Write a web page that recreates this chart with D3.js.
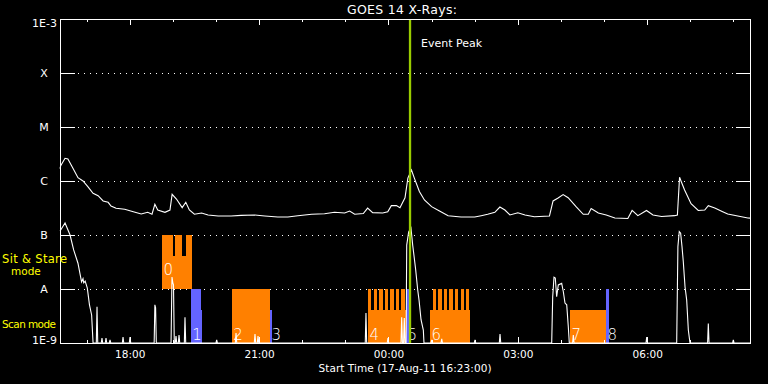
<!DOCTYPE html>
<html lang="en">
<head>
<meta charset="utf-8">
<title>GOES 14 X-Rays</title>
<script src="https://cdn.jsdelivr.net/npm/d3@7"></script>
<style>
  html, body { margin: 0; padding: 0; background: #000; }
  svg { display: block; }
  text { font-family: "DejaVu Sans", sans-serif; fill: #fff; }
</style>
</head>
<body>
<script>
// times are minutes after the start time (17-Aug-11 16:23:00 UT)
var startTime = Date.UTC(2011, 7, 17, 16, 23, 0),
    spanMinutes = 16 * 60,
    eventPeak = 487;

// flux levels (W/m^2) and their labels
var levels = [1e-9, 1e-8, 1e-7, 1e-6, 1e-5, 1e-4, 1e-3],
    levelLabels = ["1E-9", "A", "B", "C", "M", "X", "1E-3"];

// GOES 1-8 A channel
var longChannel = [
  [0, 1.7e-6], [1, 1.92e-6], [7, 2.63e-6], [11, 2.56e-6], [18, 1.72e-6], [25, 1.15e-6], [32, 1.0e-6],
  [39, 7.8e-7], [46, 5.9e-7], [53, 5.35e-7], [60, 4.27e-7], [67, 4.03e-7], [71, 3.44e-7], [78, 3.12e-7],
  [90, 2.99e-7], [102, 2.7e-7], [113, 2.45e-7], [122, 2.63e-7], [128, 2.42e-7], [132, 3.7e-7], [136, 2.9e-7],
  [146, 2.63e-7], [153, 2.9e-7], [156, 5.67e-7], [162, 4.64e-7], [170, 3.21e-7], [175, 4.03e-7], [180, 2.9e-7],
  [187, 2.42e-7], [197, 2.55e-7], [206, 2.35e-7], [220, 2.25e-7], [238, 2.25e-7], [252, 2.31e-7], [271, 2.35e-7],
  [285, 2.25e-7], [303, 2.15e-7], [317, 2.15e-7], [331, 2.28e-7], [350, 2.42e-7], [368, 2.47e-7], [382, 2.63e-7],
  [396, 2.55e-7], [403, 2.78e-7], [410, 2.42e-7], [422, 2.5e-7], [428, 3.15e-7], [435, 2.6e-7], [449, 2.55e-7],
  [456, 2.7e-7], [461, 3.5e-7], [468, 3.5e-7], [473, 3.2e-7], [480, 4.9e-7], [484, 1.13e-6], [489, 1.6e-6],
  [493, 1.13e-6], [500, 6.4e-7], [507, 4.45e-7], [517, 3.35e-7], [528, 2.78e-7], [540, 2.28e-7], [558, 2.15e-7],
  [577, 2.15e-7], [586, 2.28e-7], [595, 2.42e-7], [605, 2.63e-7], [612, 3.3e-7], [619, 2.9e-7], [626, 2.35e-7],
  [637, 2.58e-7], [647, 2.35e-7], [660, 2.18e-7], [681, 2.25e-7], [686, 4.27e-7], [693, 4.84e-7], [700, 5.6e-7],
  [707, 4.9e-7], [718, 3.35e-7], [728, 2.42e-7], [735, 2.42e-7], [739, 3.1e-7], [749, 2.55e-7], [760, 2.35e-7],
  [772, 2.07e-7], [790, 2.02e-7], [796, 2.85e-7], [804, 2.28e-7], [816, 2.85e-7], [825, 2.35e-7], [837, 2.2e-7],
  [855, 2.28e-7], [859, 2.35e-7], [862, 1.17e-6], [864, 1.0e-6], [869, 6.8e-7], [878, 3.8e-7], [888, 2.85e-7],
  [897, 2.9e-7], [902, 3.5e-7], [911, 3.15e-7], [922, 2.7e-7], [929, 2.45e-7], [943, 2.25e-7], [957, 2.07e-7],
  [960, 2.05e-7]
];

// GOES 0.5-4 A channel (values under 1E-9 sit on the axis)
var shortChannel = [
  [0, 1.2e-7], [1, 1.24e-7], [7, 1.67e-7], [14, 1.0e-7], [19, 5.3e-8], [25, 3.0e-8], [30, 1.35e-8],
  [32, 1.55e-8], [33, 1.3e-8], [35, 1.4e-8], [38, 1.04e-8], [41, 5.1e-9], [44, 3.3e-9], [46, 5e-10],
  [50.5, 5e-10], [51.5, 4.7e-9], [52.5, 5e-10],
  [57.4, 5e-10], [58.4, 1.24e-9], [59.4, 5e-10],
  [63, 5e-10], [64, 1.24e-9], [65, 5e-10],
  [68.6, 5e-10], [69.6, 1.14e-9], [70.6, 5e-10],
  [86.7, 5e-10], [87.7, 1.29e-9], [88.7, 5e-10],
  [96.4, 5e-10], [97.4, 1.29e-9], [98.4, 5e-10],
  [131, 5e-10], [132, 5.1e-9], [133, 4.5e-9], [134, 5e-10],
  [154.5, 5e-10], [155.8, 1.67e-8], [157, 1.3e-8], [157.9, 1.19e-8], [159, 5e-10],
  [160.4, 5e-10], [161.4, 1.35e-9], [162.4, 5e-10],
  [164.6, 5e-10], [165.6, 1.41e-9], [166.6, 5e-10],
  [173, 5e-10], [173.9, 3.0e-9], [174.9, 5e-10],
  [217, 5e-10], [218, 1.14e-9], [219, 5e-10],
  [244, 5e-10], [244.9, 1.53e-9], [245.9, 5e-10],
  [270.3, 5e-10], [271.3, 1.47e-9], [272.3, 5e-10],
  [274.5, 5e-10], [275.5, 1.35e-9], [276.5, 5e-10],
  [424.7, 5e-10], [425.7, 3.6e-9], [426.7, 5e-10],
  [455.3, 5e-10], [456.3, 1.24e-9], [457.3, 5e-10],
  [474.4, 5e-10], [475.4, 3.0e-9], [476.4, 5e-10],
  [478, 5e-10], [479, 2.9e-9], [480, 5e-10],
  [481.5, 5e-10], [482.4, 6.5e-8], [485.1, 1.14e-7], [488.3, 1.35e-7], [490.7, 6.5e-8], [492.9, 3.75e-8],
  [494.9, 2.25e-8], [497.7, 9.6e-9], [499.5, 6.3e-9], [502.3, 2.7e-9], [505.5, 1.74e-9], [506.4, 5e-10],
  [516.2, 5e-10], [517.2, 1.14e-9], [518.2, 5e-10],
  [530.1, 5e-10], [531.1, 1.19e-9], [532.1, 5e-10],
  [576.4, 5e-10], [577.4, 1.14e-9], [578.4, 5e-10],
  [611.2, 5e-10], [612.2, 1.47e-9], [613.2, 5e-10],
  [684.1, 5e-10], [685.5, 7.2e-9], [687.3, 1.65e-8], [689.1, 1.6e-8], [691, 7.2e-9], [693.3, 1.19e-8],
  [698, 1.27e-8], [700.3, 8.9e-9], [702.6, 5.5e-9], [705, 5.1e-9], [707.2, 2.0e-9], [708.6, 5e-10],
  [713.2, 5e-10], [714.2, 1.41e-9], [715.2, 5e-10],
  [815.3, 5e-10], [816.3, 1.29e-9], [817.3, 5e-10],
  [858, 5e-10], [859.7, 6.1e-8], [861.6, 1.16e-7], [863.5, 1.08e-7], [865.4, 6.1e-8], [867.2, 3.2e-8],
  [869.6, 1.1e-8], [871.9, 6.3e-9], [874.2, 1.74e-9], [876.5, 5e-10],
  [901, 5e-10], [902, 2.3e-9], [903, 5e-10],
  [935.8, 5e-10], [936.8, 1.14e-9], [937.8, 5e-10],
  [960, 5e-10]
];

// observing blocks: [start, end, top flux, bottom flux]
var rasterBlocks = [
  [142, 157, 1e-7, 1e-8], [157, 160, 4e-8, 1e-8], [160, 170, 1e-7, 1e-8], [170, 175, 4e-8, 1e-8], [175, 184, 1e-7, 1e-8],
  [239, 292, 1e-8, 1e-9],
  [428.5, 481.4, 4e-9, 1e-9],
  [428.5, 433.1, 1e-8, 1e-9], [437.4, 441.5, 1e-8, 1e-9], [444.5, 449.1, 1e-8, 1e-9], [452.2, 456.8, 1e-8, 1e-9],
  [459.8, 464.4, 1e-8, 1e-9], [467.5, 472.1, 1e-8, 1e-9], [475.1, 479.7, 1e-8, 1e-9],
  [514.8, 570.4, 4e-9, 1e-9],
  [518.5, 523.1, 1e-8, 1e-9], [526.3, 531, 1e-8, 1e-9], [534.3, 538.9, 1e-8, 1e-9], [541.6, 546.4, 1e-8, 1e-9],
  [549.6, 554.2, 1e-8, 1e-9], [557.5, 562.1, 1e-8, 1e-9], [564.9, 569.5, 1e-8, 1e-9],
  [709.6, 759.7, 4e-9, 1e-9]
];
var otherBlocks = [
  [182, 196.2, 1e-8, 1e-9], [196.2, 197.6, 4e-9, 1e-9],
  [292.2, 295, 4e-9, 1e-9],
  [481.4, 485.6, 1e-8, 1e-9],
  [759.7, 763.8, 1e-8, 1e-9]
];

// block numbers, where each starts, and the flux it sits on
var blockNames = ["0", "1", "2", "3", "4", "5", "6", "7", "8"],
    blockStarts = [142, 182, 239, 292, 428.5, 481.4, 514.8, 709.6, 759.7],
    blockLevels = [1.6e-8, 1e-9, 1e-9, 1e-9, 1e-9, 1e-9, 1e-9, 1e-9, 1e-9];

var width = 768,
    height = 384,
    plotL = 60, plotR = 750, plotT = 19, plotB = 343;

var at = function(m) { return new Date(startTime + m * 60000); };

var x = d3.scaleUtc()
    .domain([at(0), at(spanMinutes)])
    .range([plotL, plotR]);

var y = d3.scaleLog()
    .domain([1e-9, 1e-3])
    .range([plotB, plotT])
    .clamp(true);

var svg = d3.select("body").append("svg")
    .attr("width", width)
    .attr("height", height)
    .style("background", "#000");

// dotted class levels
svg.append("g").selectAll("line")
    .data(levels.slice(1, 6))
  .enter().append("line")
    .attr("x1", plotL + 18).attr("x2", plotR - 14)
    .attr("y1", function(d) { return Math.round(y(d)) + 0.5; })
    .attr("y2", function(d) { return Math.round(y(d)) + 0.5; })
    .attr("stroke", "#fff")
    .attr("stroke-dasharray", "1,5");

function blocks(data, colour) {
  svg.append("g").selectAll("rect")
      .data(data)
    .enter().append("rect")
      .attr("x", function(d) { return x(at(d[0])); })
      .attr("width", function(d) { return x(at(d[1])) - x(at(d[0])); })
      .attr("y", function(d) { return y(d[2]); })
      .attr("height", function(d) { return y(d[3]) - y(d[2]); })
      .attr("fill", colour)
      .attr("shape-rendering", "crispEdges");
}
blocks(rasterBlocks, "#ff8000");
blocks(otherBlocks, "#6464ff");

svg.append("g").selectAll("text")
    .data(blockNames)
  .enter().append("text")
    .attr("x", function(d, i) { return x(at(blockStarts[i])) + 1.5; })
    .attr("y", function(d, i) { return y(blockLevels[i]) - 3; })
    .style("font-size", "15px")
    .style("font-weight", 200)
    .text(function(d) { return d; });

var line = d3.line()
    .x(function(d) { return x(at(d[0])); })
    .y(function(d) { return y(d[1]); });

[longChannel, shortChannel].forEach(function(series) {
  svg.append("path")
      .datum(series)
      .attr("d", line)
      .attr("fill", "none")
      .attr("stroke", "#fff")
      .attr("stroke-width", 1.1);
});

// event peak marker
svg.append("line")
    .attr("x1", x(at(eventPeak))).attr("x2", x(at(eventPeak)))
    .attr("y1", plotT).attr("y2", plotB)
    .attr("stroke", "#99cc00")
    .attr("stroke-width", 2.3);

svg.append("text")
    .attr("x", x(at(eventPeak)) + 11)
    .attr("y", 47)
    .style("font-size", "11px")
    .text("Event Peak");

// axes
function noDomain(g) {
  g.select(".domain").remove();
  g.selectAll("line").attr("stroke", "#fff").attr("shape-rendering", "crispEdges");
}

svg.append("g")
    .attr("transform", "translate(0," + plotB + ")")
    .call(d3.axisBottom(x).ticks(d3.utcHour.every(3)).tickFormat(d3.utcFormat("%H:%M"))
      .tickSize(-6).tickPadding(8))
    .call(noDomain)
    .call(function(g) {
      g.selectAll("text").style("font-size", "10.5px").attr("fill", "#fff")
          .style("font-family", "'DejaVu Sans', sans-serif");
    });
svg.append("g")
    .attr("transform", "translate(0," + plotB + ")")
    .call(d3.axisBottom(x).ticks(d3.utcHour.every(1)).tickFormat("").tickSize(-3))
    .call(noDomain);
svg.append("g")
    .attr("transform", "translate(0," + plotT + ")")
    .call(d3.axisTop(x).ticks(d3.utcHour.every(3)).tickFormat("").tickSize(-6))
    .call(noDomain);
svg.append("g")
    .attr("transform", "translate(0," + plotT + ")")
    .call(d3.axisTop(x).ticks(d3.utcHour.every(1)).tickFormat("").tickSize(-3))
    .call(noDomain);
svg.append("g")
    .attr("transform", "translate(" + plotL + ",0)")
    .call(d3.axisLeft(y).tickValues(levels).tickFormat("").tickSize(-15))
    .call(noDomain);
svg.append("g")
    .attr("transform", "translate(" + plotR + ",0)")
    .call(d3.axisRight(y).tickValues(levels).tickFormat("").tickSize(-14))
    .call(noDomain);

svg.append("rect")
    .attr("x", plotL + 0.5).attr("y", plotT + 0.5)
    .attr("width", plotR - plotL).attr("height", plotB - plotT)
    .attr("fill", "none")
    .attr("stroke", "#fff")
    .attr("shape-rendering", "crispEdges");

// level labels
svg.append("g").selectAll("text")
    .data(levels)
  .enter().append("text")
    .attr("x", function(d, i) { return levelLabels[i].length > 1 ? 57 : 44; })
    .attr("y", function(d) { return Math.min(Math.max(y(d), plotT + 4), plotB - 3); })
    .attr("dy", "0.36em")
    .attr("text-anchor", function(d, i) { return levelLabels[i].length > 1 ? "end" : "middle"; })
    .style("font-size", "11px")
    .text(function(d, i) { return levelLabels[i]; });

// mode labels
var modeText = svg.append("g");
modeText.append("text").attr("x", 2).attr("y", 263).attr("textLength", 65)
    .style("fill", "#ffff00").style("font-size", "11.5px").text("Sit & Stare");
modeText.append("text").attr("x", 11).attr("y", 275)
    .style("fill", "#ffff00").style("font-size", "10.5px").text("mode");
modeText.append("text").attr("x", 2).attr("y", 328).attr("textLength", 54)
    .style("fill", "#ffff00").style("font-size", "10.5px").text("Scan mode");

// titles
svg.append("text")
    .attr("x", (plotL + plotR) / 2 - 3)
    .attr("y", 14)
    .attr("text-anchor", "middle")
    .attr("textLength", 110)
    .style("font-size", "12.5px")
    .text("GOES 14 X-Rays:");

svg.append("text")
    .attr("x", (plotL + plotR) / 2)
    .attr("y", 372)
    .attr("text-anchor", "middle")
    .attr("textLength", 173)
    .style("font-size", "10.5px")
    .text("Start Time (17-Aug-11 16:23:00)");
</script>
</body>
</html>
